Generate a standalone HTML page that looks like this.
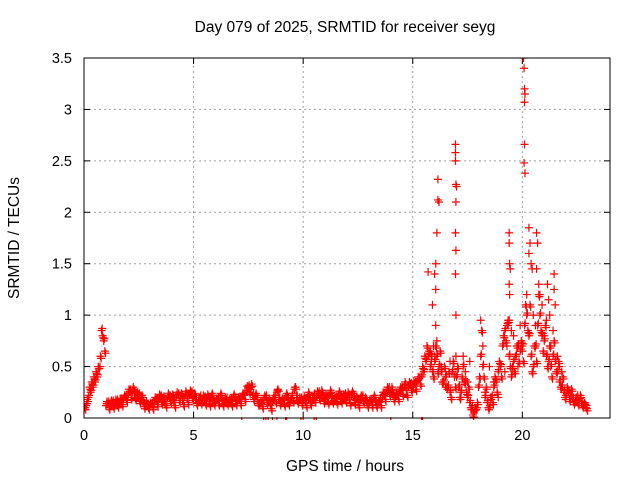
<!DOCTYPE html>
<html><head><meta charset="utf-8"><style>
html,body{margin:0;padding:0;background:#fff;}
svg{display:block;font-family:"Liberation Sans",sans-serif;}
</style></head><body>
<svg id="chart" width="640" height="480" viewBox="0 0 640 480">
<text x="345" y="32" text-anchor="middle" font-size="15.5">Day 079 of 2025, SRMTID for receiver seyg</text>
<text x="345" y="471" text-anchor="middle" font-size="15.5">GPS time / hours</text>
<text transform="translate(19,238) rotate(-90)" text-anchor="middle" font-size="15.5">SRMTID / TECUs</text>
<g id="grid"></g>
<g id="ticks"></g>
<defs><clipPath id="pc"><rect x="84" y="58" width="526" height="362"/></clipPath></defs>
<g id="marks" clip-path="url(#pc)"></g>
<rect x="84" y="58" width="526" height="360" fill="none" stroke="#000" stroke-width="1"/>
</svg>
<script>
const xTicks = [0,5,10,15,20];
const yTicks = [0,0.5,1,1.5,2,2.5,3,3.5];
const yTickLabels = ["0","0.5","1","1.5","2","2.5","3","3.5"];
const baseStart = 0;
const baseStep = 0.1;
const baseValues = [
0.08,0.12,0.2,0.25,0.3,0.35,0.4,0.48,0.85,0.75,
0.12,0.14,0.13,0.15,0.12,0.16,0.14,0.17,0.18,0.2,
0.22,0.26,0.25,0.24,0.2,0.22,0.18,0.15,0.13,0.12,
0.12,0.13,0.15,0.17,0.18,0.2,0.16,0.14,0.19,0.2,
0.18,0.15,0.2,0.22,0.2,0.17,0.21,0.19,0.22,0.24,
0.2,0.18,0.15,0.2,0.17,0.19,0.18,0.16,0.2,0.17,
0.15,0.18,0.2,0.17,0.16,0.18,0.15,0.17,0.19,0.18,
0.16,0.18,0.2,0.22,0.25,0.3,0.28,0.22,0.2,0.18,
0.12,0.15,0.18,0.2,0.15,0.12,0.16,0.2,0.25,0.18,
0.15,0.17,0.2,0.18,0.15,0.22,0.28,0.2,0.16,0.18,
0.17,0.15,0.2,0.18,0.16,0.22,0.2,0.24,0.22,0.2,
0.18,0.2,0.22,0.2,0.17,0.19,0.21,0.2,0.18,0.22,
0.2,0.18,0.22,0.2,0.17,0.15,0.18,0.2,0.16,0.15,
0.14,0.16,0.18,0.15,0.13,0.16,0.2,0.22,0.25,0.28,
0.25,0.22,0.2,0.22,0.26,0.28,0.3,0.27,0.3,0.32,
0.3,0.33,0.35,0.38,0.4,0.45,0.55,0.6,0.5,0.45,
0.55,0.6,0.5,0.45,0.35,0.4,0.3,0.25,0.45,0.4,
0.4,0.3,0.25,0.5,0.35,0.2,0.15,0.1,0.05,0.08,
0.3,0.6,0.5,0.2,0.15,0.1,0.2,0.3,0.35,0.45,
0.5,0.7,0.85,0.9,0.6,0.4,0.55,0.6,0.7,0.65,
0.7,0.9,1.0,0.8,0.6,0.5,0.7,0.9,1.0,0.8,
0.75,0.6,0.55,0.5,0.6,0.55,0.45,0.35,0.3,0.25,
0.22,0.25,0.2,0.18,0.15,0.2,0.17,0.14,0.12,0.1
];
const baseValuesB = [
0.1,0.18,0.3,0.35,0.4,0.45,0.5,0.6,0.8,0.65,
0.16,0.1,0.17,0.11,0.18,0.12,0.19,0.13,0.22,0.17,
0.28,0.2,0.3,0.19,0.25,0.16,0.22,0.11,0.16,0.1,
0.15,0.1,0.2,0.13,0.23,0.15,0.21,0.12,0.24,0.16,
0.23,0.12,0.25,0.17,0.24,0.13,0.26,0.15,0.27,0.19,
0.24,0.14,0.2,0.15,0.22,0.14,0.23,0.13,0.24,0.14,
0.19,0.14,0.24,0.13,0.2,0.14,0.19,0.13,0.23,0.14,
0.2,0.14,0.24,0.18,0.31,0.25,0.33,0.18,0.24,0.14,
0.16,0.11,0.22,0.15,0.19,0.09,0.2,0.16,0.28,0.14,
0.19,0.13,0.24,0.14,0.19,0.17,0.3,0.16,0.2,0.14,
0.21,0.12,0.25,0.14,0.2,0.17,0.26,0.19,0.27,0.16,
0.23,0.15,0.27,0.16,0.21,0.15,0.26,0.16,0.23,0.17,
0.25,0.14,0.26,0.15,0.21,0.12,0.22,0.16,0.2,0.12,
0.18,0.12,0.22,0.12,0.17,0.12,0.25,0.18,0.3,0.23,
0.3,0.18,0.25,0.18,0.3,0.23,0.35,0.22,0.35,0.27,
0.36,0.28,0.4,0.33,0.5,0.6,0.7,0.65,0.62,0.4,
0.7,0.45,0.65,0.35,0.5,0.3,0.45,0.2,0.55,0.3,
0.5,0.2,0.4,0.35,0.25,0.3,0.1,0.03,0.1,0.15,
0.4,0.85,0.4,0.3,0.1,0.2,0.15,0.4,0.25,0.55,
0.4,0.8,0.75,0.95,0.5,0.5,0.45,0.7,0.55,0.75,
0.55,1.1,0.85,1.1,0.45,0.7,0.55,1.2,0.85,0.65,
0.9,0.5,0.7,0.4,0.75,0.45,0.55,0.3,0.4,0.2,
0.3,0.18,0.28,0.15,0.2,0.14,0.22,0.12,0.15,0.09
];
const spikeHours = [15.7,15.9,16.05,16.05,16.05,16.1,16.15,16.15,16.2,16.0,
16.95,16.95,16.95,16.97,17.0,16.97,16.95,16.97,16.95,16.97,16.97,
19.4,19.4,19.42,19.45,19.4,19.42,19.4,19.5,19.35,
20.05,20.08,20.1,20.12,20.1,20.1,20.08,20.12,
20.3,20.35,20.3,20.4,20.45,20.65,20.7,20.65,20.75,20.8,
21.15,21.2,21.25,21.45,21.45,21.5,21.4,18.1,18.15,18.2,17.3,17.6,
15.8,15.85,15.95,16.0,16.1,16.3,16.5,16.7,17.2,17.4,17.5,18.3,18.5,18.7,18.9,
19.2,19.3,19.6,19.7,19.8,19.9,20.0,20.2,20.5,20.6,20.9,21.0,21.1,21.3,21.6,21.7,21.8];
const spikeValues = [1.42,1.1,1.5,1.25,0.9,1.8,2.32,2.12,2.1,1.4,
2.66,2.58,2.5,2.27,2.25,2.1,1.8,1.63,1.4,1.0,0.6,
1.8,1.7,1.5,1.45,1.3,1.2,0.95,0.85,0.9,
3.5,3.4,3.2,3.15,3.07,2.66,2.48,2.38,
1.85,1.7,1.6,1.5,1.45,1.8,1.7,1.45,1.3,1.2,
1.3,1.15,1.0,1.4,1.25,1.1,0.85,0.95,0.85,0.7,0.6,0.55,
0.65,0.55,0.7,0.6,0.75,0.5,0.3,0.55,0.2,0.45,0.35,0.25,0.5,0.35,0.2,
0.45,0.7,0.8,0.6,0.5,0.9,0.65,1.2,1.0,0.9,1.1,0.8,0.95,0.7,0.6,0.5,0.45];
const zeroHours = [7.2,8.2,8.3,8.4,8.6,8.8,9.2,9.25,9.9,10.0,10.5,10.6,14.0,15.4,15.45];

const X0=84,X1=610,Y0=418,Y1=58;
const xs = h => X0 + (h/24)*(X1-X0);
const ys = v => Y0 - (v/3.5)*(Y0-Y1);
const NS="http://www.w3.org/2000/svg";
const grid=document.getElementById('grid'), ticks=document.getElementById('ticks'), marks=document.getElementById('marks');
function mk(tag,attrs,parent){const e=document.createElementNS(NS,tag);for(const k in attrs)e.setAttribute(k,attrs[k]);parent.appendChild(e);return e;}
xTicks.forEach(t=>{
  const x=xs(t);
  if(t>0){const g=mk('line',{x1:x,x2:x,y1:Y0,y2:Y1,stroke:'#a0a0a0','stroke-dasharray':'2,3'},grid);
  
  }
  mk('line',{x1:x,x2:x,y1:Y0,y2:Y0-6,stroke:'#000'},ticks);
  mk('line',{x1:x,x2:x,y1:Y1,y2:Y1+6,stroke:'#000'},ticks);
  const l=mk('text',{x:x,y:Y0+22,'text-anchor':'middle','font-size':'14.5'},ticks);
  l.textContent=String(t);
  
  
});
yTicks.forEach((t,i)=>{
  const y=ys(t);
  if(t>0&&t<3.5){const g=mk('line',{x1:X0,x2:X1,y1:y,y2:y,stroke:'#a0a0a0','stroke-dasharray':'2,3'},grid);
  
  }
  mk('line',{x1:X0,x2:X0+6,y1:y,y2:y,stroke:'#000'},ticks);
  mk('line',{x1:X1,x2:X1-6,y1:y,y2:y,stroke:'#000'},ticks);
  const l=mk('text',{x:X0-12,y:y+5,'text-anchor':'end','font-size':'14.5'},ticks);
  l.textContent=yTickLabels[i];
  
  
});
function plus(h,v){
  const x=xs(h),y=ys(v);
  const p=mk('path',{d:`M${x-4},${y}H${x+4}M${x},${y-4}V${y+4}`,stroke:'#f00','stroke-width':'1.2',fill:'none'},marks);
  
  
}
baseValues.forEach((v,i)=>plus(baseStart+i*baseStep,v));
baseValues.forEach((v,i)=>plus(baseStart+i*baseStep+0.03,v+0.02));
baseValuesB.forEach((v,i)=>plus(baseStart+i*baseStep+0.05,v));
baseValuesB.forEach((v,i)=>plus(baseStart+i*baseStep+0.08,v-0.02));
spikeValues.forEach((v,i)=>plus(spikeHours[i],v));
zeroHours.forEach(h=>plus(h,-0.03));
</script>
</body></html>
